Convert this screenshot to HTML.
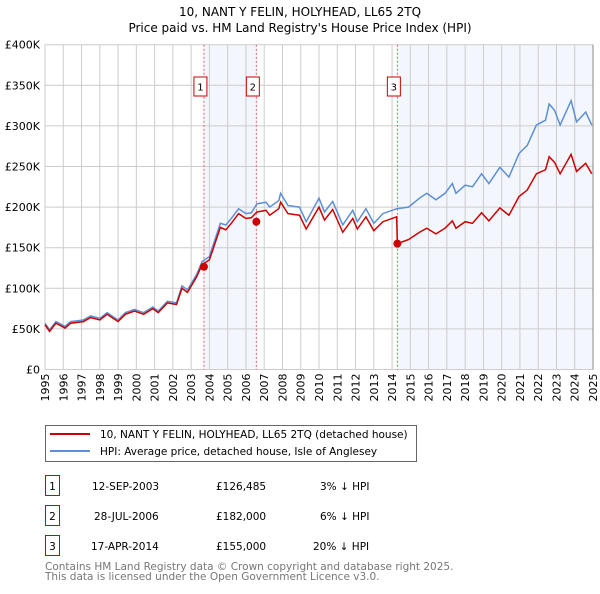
<!DOCTYPE html>
<html><head><meta charset="utf-8"><style>
body{margin:0;background:#fff;width:600px;height:590px;overflow:hidden;font-family:"DejaVu Sans","Liberation Sans",sans-serif;}
svg text{font-family:"DejaVu Sans","Liberation Sans",sans-serif;}
</style></head><body>
<svg id="chart" width="600" height="590" xmlns="http://www.w3.org/2000/svg">
<text x="300" y="16" text-anchor="middle" font-size="12">10, NANT Y FELIN, HOLYHEAD, LL65 2TQ</text>
<text x="300" y="32" text-anchor="middle" font-size="12">Price paid vs. HM Land Registry's House Price Index (HPI)</text>
<g id="plot"></g>
<g>
<rect x="45.5" y="425.5" width="371" height="36" fill="#fff" stroke="#666"/>
<line x1="50" y1="434" x2="90" y2="434" stroke="#cc0000" stroke-width="2"/>
<text x="100" y="438" font-size="10.5">10, NANT Y FELIN, HOLYHEAD, LL65 2TQ (detached house)</text>
<line x1="50" y1="451" x2="90" y2="451" stroke="#5b8fd6" stroke-width="2"/>
<text x="100" y="455" font-size="10.5">HPI: Average price, detached house, Isle of Anglesey</text>
</g>
<g font-size="10.5">
<rect x="45.5" y="475.5" width="14" height="20" fill="none" stroke="#cc0000"/><text x="52.5" y="490" text-anchor="middle">1</text>
<text x="92" y="490">12-SEP-2003</text><text x="216" y="490">£126,485</text><text x="320" y="490">3% ↓ HPI</text>
<rect x="45.5" y="505.5" width="14" height="20" fill="none" stroke="#cc0000"/><text x="52.5" y="520" text-anchor="middle">2</text>
<text x="94" y="520">28-JUL-2006</text><text x="216" y="520">£182,000</text><text x="320" y="520">6% ↓ HPI</text>
<rect x="45.5" y="535.5" width="14" height="20" fill="none" stroke="#cc0000"/><text x="52.5" y="550" text-anchor="middle">3</text>
<text x="91" y="550">17-APR-2014</text><text x="216" y="550">£155,000</text><text x="313" y="550">20% ↓ HPI</text>
</g>
<text x="45" y="570" font-size="10.5" fill="#777">Contains HM Land Registry data © Crown copyright and database right 2025.</text>
<text x="45" y="580" font-size="10.5" fill="#777">This data is licensed under the Open Government Licence v3.0.</text>
</svg>
<script>
const hpiYears=[1995.0,1995.25,1995.6,1996.1,1996.4,1997.1,1997.5,1998.0,1998.4,1999.0,1999.4,1999.9,2000.4,2000.9,2001.2,2001.7,2002.2,2002.5,2002.8,2003.3,2003.6,2004.0,2004.6,2004.9,2005.2,2005.6,2006.0,2006.3,2006.6,2007.1,2007.3,2007.8,2007.9,2008.3,2008.93,2009.3,2010.0,2010.3,2010.75,2011.3,2011.85,2012.1,2012.57,2013.0,2013.5,2014.25,2014.9,2015.5,2015.9,2016.4,2016.9,2017.3,2017.5,2018.0,2018.4,2018.9,2019.3,2019.9,2020.4,2020.95,2021.4,2021.9,2022.4,2022.6,2022.9,2023.2,2023.8,2024.1,2024.6,2024.93];
const hpiValues=[57,49,59,53,59,61,66,63,70,61,70,74,70,77,72,84,82,103,98,117,133,139,180,178,186,198,192,193,204,206,200,208,217,202,200,182,211,194,207,178,196,182,198,180,192,198,200,211,217,209,217,229,217,227,225,241,229,249,237,266,276,301,307,327,319,301,331,305,317,301];
const priceYears=[1995.0,1995.25,1995.6,1996.1,1996.4,1997.1,1997.5,1998.0,1998.4,1999.0,1999.4,1999.9,2000.4,2000.9,2001.2,2001.7,2002.2,2002.5,2002.8,2003.3,2003.6,2004.0,2004.6,2004.9,2005.2,2005.6,2006.0,2006.3,2006.6,2007.1,2007.3,2007.8,2007.9,2008.3,2008.93,2009.3,2010.0,2010.3,2010.75,2011.3,2011.85,2012.1,2012.57,2013.0,2013.5,2014.25,2014.29,2014.9,2015.5,2015.9,2016.4,2016.9,2017.3,2017.5,2018.0,2018.4,2018.9,2019.3,2019.9,2020.4,2020.95,2021.4,2021.9,2022.4,2022.6,2022.9,2023.2,2023.8,2024.1,2024.6,2024.93];
const priceValues=[55,47,57,51,57,59,64,61,68,59,68,72,68,75,70,82,80,100,95,114,129,135,175,172,180,192,186,187,194,196,190,198,206,192,190,173,200,184,197,169,186,173,188,171,182,188,155,160,169,174,167,174,183,174,182,180,193,183,199,190,213,221,241,246,262,255,241,265,244,254,241];
const saleYears=[2003.70,2006.57,2014.29];
const saleValues=[126.485,182,155];
const saleLabels=["1","2","3"];
const yTicks=[0,50,100,150,200,250,300,350,400];
const yTickLabels=["£0","£50K","£100K","£150K","£200K","£250K","£300K","£350K","£400K"];
const xTicks=[1995,1996,1997,1998,1999,2000,2001,2002,2003,2004,2005,2006,2007,2008,2009,2010,2011,2012,2013,2014,2015,2016,2017,2018,2019,2020,2021,2022,2023,2024,2025];

const NS="http://www.w3.org/2000/svg";
const X0=45,X1=593,Y0=369.5,Y1=44.7;
const xs=y=>X0+(y-1995)/30*(X1-X0);
const ys=v=>Y0-v/400*(Y0-Y1);
const g=document.getElementById('plot');
function mk(t,a){const e=document.createElementNS(NS,t);for(const k in a)e.setAttribute(k,a[k]);g.appendChild(e);return e;}
let s1=mk('rect',{x:xs(saleYears[0]),y:Y1,width:xs(saleYears[1])-xs(saleYears[0]),height:Y0-Y1,fill:'#f3f6fd'});


let s2=mk('rect',{x:xs(saleYears[2]),y:Y1,width:X1-xs(saleYears[2]),height:Y0-Y1,fill:'#f3f6fd'});


xTicks.forEach(t=>{
 const l=mk('line',{x1:xs(t),x2:xs(t),y1:Y1,y2:Y0,stroke:'#cccccc','stroke-width':1});
 
 
 const tx=mk('text',{x:0,y:0,'font-size':11,'text-anchor':'end',transform:`translate(${xs(t)+4},${Y0+4}) rotate(-90)`});
 
 
 tx.textContent=t;
});
yTicks.forEach((t,i)=>{
 const l=mk('line',{x1:X0,x2:X1,y1:ys(t),y2:ys(t),stroke:'#cccccc','stroke-width':1});
 
 
 const tx=mk('text',{x:40,y:ys(t)+4,'font-size':11,'text-anchor':'end'});
 
 
 tx.textContent=yTickLabels[i];
});
saleYears.forEach((yr,i)=>{
 const l=mk('line',{x1:xs(yr),x2:xs(yr),y1:Y1,y2:Y0,stroke:'#e06060','stroke-width':1,'stroke-dasharray':'2,2'});
 
 
 const r=mk('rect',{x:xs(yr)-10,y:77,width:13,height:19,fill:'#fff',stroke:'#cc0000'});
 
 
 const t=mk('text',{x:xs(yr)-3.5,y:90.5,'font-size':10,'text-anchor':'middle'});
 
 
 t.textContent=saleLabels[i];
});
const hp=mk('polyline',{points:hpiYears.map((y,i)=>xs(y)+','+ys(hpiValues[i])).join(' '),fill:'none',stroke:'#5b8fd6','stroke-width':1.5});


const pp=mk('polyline',{points:priceYears.map((y,i)=>xs(y)+','+ys(priceValues[i])).join(' '),fill:'none',stroke:'#cc0000','stroke-width':1.5});


saleYears.forEach((yr,i)=>{
 const c=mk('circle',{cx:xs(yr),cy:ys(saleValues[i]),r:4,fill:'#cc0000'});
 
 
});
const ax=mk('line',{x1:X1,x2:X1,y1:Y1,y2:Y0,stroke:'#888'});


</script>
</body></html>
